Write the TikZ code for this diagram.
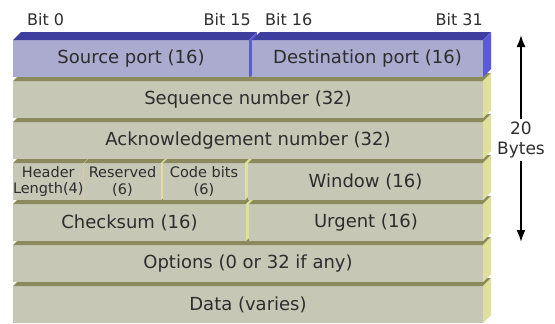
\documentclass[tikz,border=0pt]{standalone}
\usepackage{fontspec}
\setmainfont{DejaVu Sans}
\usetikzlibrary{arrows.meta,calc}

\definecolor{portfront}{RGB}{170,171,206}
\definecolor{porttop}{RGB}{62,62,158}
\definecolor{portside}{RGB}{90,90,222}
\definecolor{datafront}{RGB}{199,199,182}
\definecolor{datatop}{RGB}{138,138,92}
\definecolor{dataside}{RGB}{224,224,152}
\definecolor{labeltext}{RGB}{45,45,45}

\newcommand{\boxdepth}{8}
% one header field: [extra style] name, left x, width, row, colour prefix, text
\newcommand{\tcpcell}[7][]{%
  \node[cell, #1, minimum width=#4, fill=#6front, anchor=north west] (#2) at (#3,{-40-41*#5}) {#7};
  \fill[#6top] (#2.north west) -- ++(\boxdepth,\boxdepth) -- ($(#2.north east)+(\boxdepth,\boxdepth)$) -- (#2.north east) -- cycle;
  \fill[#6side] (#2.north east) -- ++(\boxdepth,\boxdepth) -- ($(#2.south east)+(\boxdepth,\boxdepth)$) -- (#2.south east) -- cycle;
}

\begin{document}
\begin{tikzpicture}[x=1pt, y=1pt]
  % Styles
  \tikzstyle{cell}=[rectangle, inner sep=0pt, outer sep=0pt, minimum height=37, text=labeltext, align=center, font=\fontsize{18}{20}\selectfont]
  \tikzstyle{smallcell}=[font=\fontsize{14.5}{16.5}\selectfont]
  \tikzstyle{bitlabel}=[inner sep=0pt, text=labeltext, font=\fontsize{16}{18}\selectfont]
  \tikzstyle{sizearrow}=[-{Latex[length=12pt, width=9pt]}, line width=1.8pt, black]

  \useasboundingbox (0,0) rectangle (555,-324);

  % Rows, bottom first so upper boxes hide the top faces below
  \tcpcell{data}{13}{470}{6}{data}{Data (varies)}
  \tcpcell{opts}{13}{470}{5}{data}{Options (0 or 32 if any)}
  \tcpcell{csum}{13}{233}{4}{data}{Checksum (16)}
  \tcpcell{urg}{249}{234}{4}{data}{Urgent (16)}
  \tcpcell[smallcell]{hlen}{13}{69}{3}{data}{Header\\Length(4)}
  \tcpcell[smallcell]{rsvd}{84}{77}{3}{data}{Reserved\\(6)}
  \tcpcell[smallcell]{code}{163}{82}{3}{data}{Code bits\\(6)}
  \tcpcell{win}{248}{235}{3}{data}{Window (16)}
  \tcpcell{ack}{13}{470}{2}{data}{Acknowledgement number (32)}
  \tcpcell{seq}{13}{470}{1}{data}{Sequence number (32)}
  \tcpcell{src}{13}{236}{0}{port}{Source port (16)}
  \tcpcell{dst}{252}{231}{0}{port}{Destination port (16)}

  % Bit positions
  \node[bitlabel, anchor=west] (bit0) at (27,-20) {Bit 0};
  \node[bitlabel, anchor=east] (bit15) at (251,-20) {Bit 15};
  \node[bitlabel, anchor=west] (bit16) at (265,-20) {Bit 16};
  \node[bitlabel, anchor=east] (bit31) at (483,-20) {Bit 31};

  % Header size
  \node[bitlabel, align=center, inner sep=3pt, font=\fontsize{17}{20}\selectfont] (size) at (521,-140) {20\\Bytes};
  \coordinate (sizetop) at (521,-35);
  \coordinate (sizebot) at (521,-242);
  \draw[sizearrow] (size) -- (sizetop);
  \draw[sizearrow] (size) -- (sizebot);
\end{tikzpicture}
\end{document}
